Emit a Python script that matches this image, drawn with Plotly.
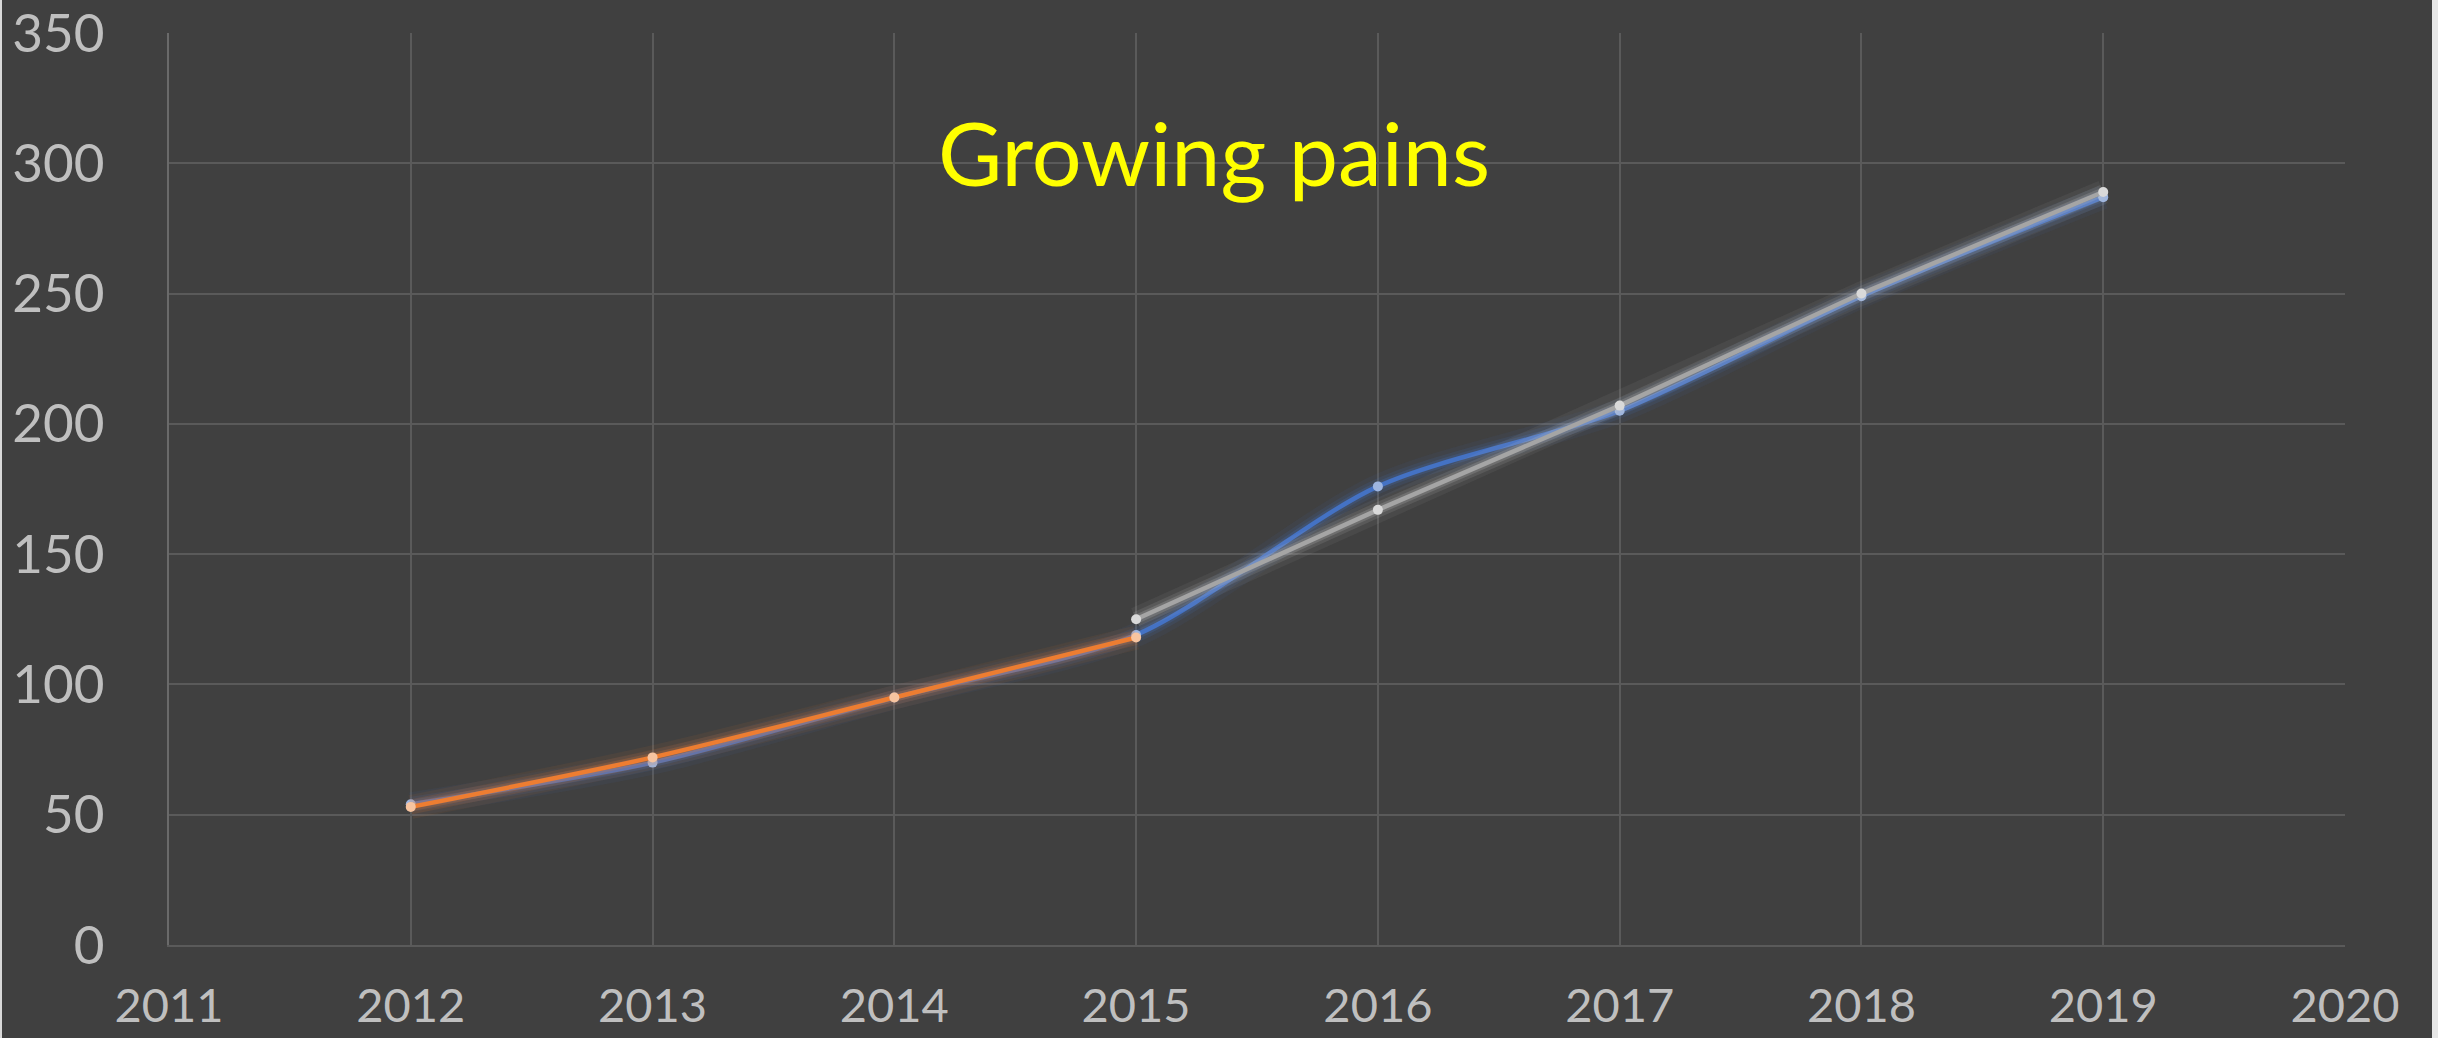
import plotly.graph_objects as go

years = [2012, 2013, 2014, 2015, 2016, 2017, 2018, 2019]
blue_vals = [54, 70, 95, 119, 176, 205, 249, 287]
orange_years = [2012, 2013, 2014, 2015]
orange_vals = [53, 72, 95, 118]
gray_years = [2015, 2016, 2017, 2018, 2019]
gray_vals = [125, 167, 207, 250, 289]
title_text = "Growing pains"

W, H = 2432, 1038
L, R, T, B = 169, 87, 33, 93

fig = go.Figure()

def add_series(x, y, color, glow, marker_color, shape):
    for w, a in [(24, 0.07), (15, 0.13), (9, 0.2)]:
        fig.add_trace(go.Scatter(x=x, y=y, mode="lines",
                                 line=dict(color=glow.format(a), width=w, shape=shape, smoothing=0.8),
                                 hoverinfo="skip", showlegend=False))
    fig.add_trace(go.Scatter(x=x, y=y, mode="lines+markers",
                             line=dict(color=color, width=4.5, shape=shape, smoothing=0.8),
                             marker=dict(size=10, color=marker_color, line=dict(width=0)),
                             showlegend=False))

add_series(years, blue_vals, "#4472C4", "rgba(68,114,196,{})", "#9DB5E0", "spline")
add_series(orange_years, orange_vals, "#ED7D31", "rgba(237,125,49,{})", "#F7C4A0", "spline")
add_series(gray_years, gray_vals, "#A5A5A5", "rgba(200,200,200,{})", "#D9D9D9", "linear")

pw = W - L - R
ph = H - T - B

fig.add_annotation(text=title_text, x=(1214 - L) / pw, y=(945 - 152) / ph,
                   xref="paper", yref="paper", showarrow=False,
                   xanchor="center", yanchor="middle",
                   font=dict(family="Lato", size=88, color="#FFFF00"))

# light frame strip at left figure edge
fig.add_shape(type="rect", xref="paper", yref="paper",
              x0=-L / pw, x1=(2 - L) / pw, y0=-B / ph, y1=(H - B) / ph,
              fillcolor="#D9D9D9", line=dict(width=0), layer="above")

fig.update_xaxes(range=[2011, 2020], dtick=1, tick0=2011, showgrid=True,
                 gridcolor="#5A5A5A", gridwidth=2, showline=True, linecolor="#5A5A5A",
                 linewidth=2, zeroline=False,
                 tickfont=dict(family="Lato", size=47, color="#BFBFBF"), ticks="",
                 ticklabelstandoff=19, automargin=False, ticklabeloverflow="allow")
fig.update_yaxes(range=[0, 350], dtick=50, showgrid=True, gridcolor="#5A5A5A",
                 gridwidth=2, showline=True, linecolor="#6A6A6A", linewidth=2,
                 zeroline=False,
                 tickfont=dict(family="Lato", size=53, color="#BFBFBF"), ticks="",
                 ticklabelstandoff=52, automargin=False, ticklabeloverflow="allow")

fig.update_layout(width=W, height=H, margin=dict(l=L, r=R, t=T, b=B),
                  paper_bgcolor="#404040", plot_bgcolor="#404040",
                  showlegend=False)

fig.write_html("out.html", config={"displayModeBar": False},
               post_script="document.body.style.margin='0';document.body.style.background='#E6E6E6';")
